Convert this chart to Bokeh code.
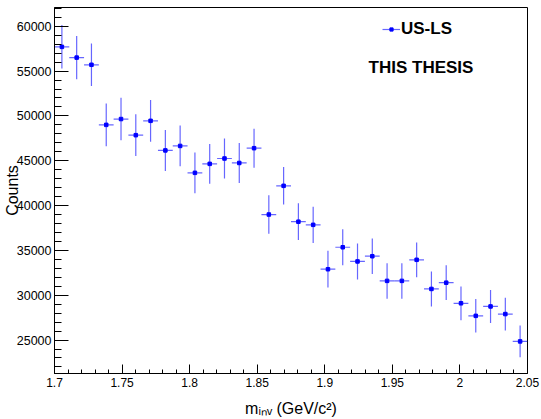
import numpy as np
from bokeh.plotting import figure
from bokeh.models import (ColumnDataSource, Range1d, FixedTicker, SingleIntervalTicker,
                          CustomJSTickFormatter, Legend, LegendItem, Label)
from bokeh.embed import file_html
from bokeh.resources import INLINE

# ---- data ----
x_lo, x_hi, n_bins = 1.7, 2.05, 32
counts = [57700, 56500, 55700, 49000, 49650, 47850, 49450, 46150,
          46650, 43650, 44650, 45250, 44750, 46400, 39000, 42200,
          38200, 37850, 32900, 35350, 33770, 34350, 31600, 31600,
          33950, 30700, 31400, 29100, 27700, 28750, 27900, 24850]
errors = [2425, 2425, 2370, 2385, 2370, 2330, 2330, 2290,
          2270, 2275, 2220, 2230, 2220, 2180, 2140, 2090,
          2050, 2030, 2050, 2010, 2010, 1990, 1980, 1980,
          1940, 1950, 1940, 1880, 1870, 1845, 1830, 1770]
x_major_ticks = [1.7, 1.75, 1.8, 1.85, 1.9, 1.95, 2.0, 2.05]
x_minor_ticks = [1.71, 1.72, 1.73, 1.74, 1.76, 1.77, 1.78, 1.79, 1.81, 1.82, 1.83, 1.84,
                 1.86, 1.87, 1.88, 1.89, 1.91, 1.92, 1.93, 1.94, 1.96, 1.97, 1.98, 1.99,
                 2.01, 2.02, 2.03, 2.04]
legend_label = "US-LS"
note_text = "THIS THESIS"
y_title = "Counts"
x_title = "m\u1d62\u2099\u1d65 (GeV/c\u00b2)"

edges = np.linspace(x_lo, x_hi, n_bins + 1)
centers = 0.5 * (edges[:-1] + edges[1:])
y = np.array(counts, dtype=float)
e = np.array(errors, dtype=float)

src = ColumnDataSource(dict(x=centers, y=y, xl=edges[:-1], xr=edges[1:],
                            yl=y - e, yh=y + e))

FONT = "Liberation Sans"

p = figure(width=541, height=419, output_backend="svg", toolbar_location=None,
           x_range=Range1d(1.7, 2.05), y_range=Range1d(21270, 62090), title=None)
p.min_border_left = 52
p.min_border_right = 14
p.min_border_top = 7
p.min_border_bottom = 46
p.background_fill_color = "white"
p.border_fill_color = "white"
p.outline_line_color = "black"
p.outline_line_width = 1
p.xgrid.visible = False
p.ygrid.visible = False

# axes
p.xaxis.ticker = FixedTicker(ticks=x_major_ticks, minor_ticks=x_minor_ticks)
p.yaxis.ticker = SingleIntervalTicker(interval=5000, num_minor_ticks=5)
p.xaxis.formatter = CustomJSTickFormatter(code="""
    return tick.toFixed(2).replace(/0+$/, '').replace(/\\.$/, '');
""")
p.yaxis.formatter.use_scientific = False
for ax in (p.xaxis[0], p.yaxis[0]):
    ax.axis_line_color = "black"
    ax.major_tick_line_color = "black"
    ax.minor_tick_line_color = "black"
    ax.major_tick_out = 0
    ax.minor_tick_out = 0
    ax.major_label_text_font = FONT
    ax.major_label_text_color = "black"
p.xaxis.major_tick_in = 9
p.xaxis.minor_tick_in = 4
p.yaxis.major_tick_in = 14
p.yaxis.minor_tick_in = 7
p.xaxis.major_label_text_font_size = "12px"
p.yaxis.major_label_text_font_size = "12.5px"
p.xaxis.major_label_standoff = 4
p.yaxis.major_label_standoff = 3

p.yaxis.axis_label = y_title
p.yaxis.axis_label_text_font = FONT
p.yaxis.axis_label_text_font_style = "normal"
p.yaxis.axis_label_text_font_size = "16px"
p.yaxis.axis_label_text_color = "black"
p.yaxis.axis_label_standoff = -7

p.xaxis.axis_label = x_title
p.xaxis.axis_label_text_font = FONT
p.xaxis.axis_label_text_font_style = "normal"
p.xaxis.axis_label_text_font_size = "16px"
p.xaxis.axis_label_text_color = "black"
p.xaxis.axis_label_standoff = 10

# error bars and markers
hbar = p.segment(x0="xl", y0="y", x1="xr", y1="y", source=src,
                 line_color="blue", line_alpha=0.6, line_width=1.2)
vbar = p.segment(x0="x", y0="yl", x1="x", y1="yh", source=src,
                 line_color="blue", line_alpha=0.6, line_width=1.2)
pts = p.scatter(x="x", y="y", source=src, marker="square", size=3.5,
                fill_color="blue", line_color="blue")

legend = Legend(items=[LegendItem(label=legend_label, renderers=[hbar, pts])],
                location=(328, 334), padding=0, spacing=0, margin=0,
                glyph_width=18, glyph_height=8, label_standoff=1,
                label_text_font=FONT, label_text_font_style="bold",
                label_text_font_size="17px", label_text_color="black",
                border_line_color=None, background_fill_alpha=0)
p.add_layout(legend, "center")

p.add_layout(Label(x=366.5, y=373 - 66.7, x_units="screen", y_units="screen",
                   text=note_text, text_font=FONT, text_font_style="bold",
                   text_font_size="17px", text_color="black",
                   text_align="center", text_baseline="alphabetic"))

open("out.html", "w").write(file_html(p, INLINE))
